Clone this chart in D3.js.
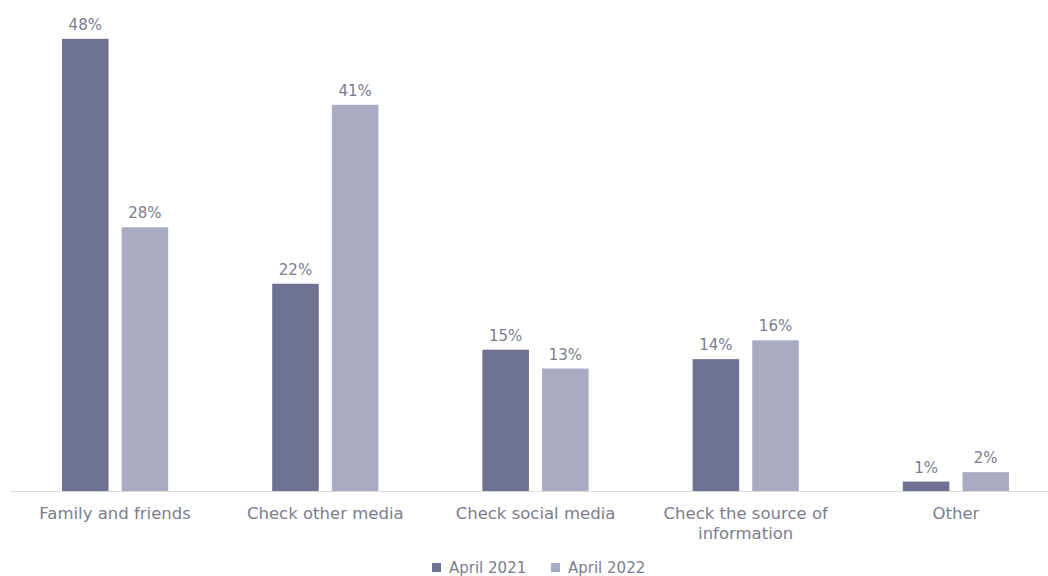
<!DOCTYPE html>
<html>
<head>
<meta charset="utf-8">
<script src="https://cdn.jsdelivr.net/npm/d3@7"></script>
<style>
  html, body { margin: 0; padding: 0; background: #ffffff; }
  svg { display: block; }
  text { font-family: "DejaVu Sans", sans-serif; fill: #7b7c8e; }
</style>
</head>
<body>
<svg id="chart" width="1048" height="576"></svg>
<script>
// Categories (multi-line labels split on "\n")
const categories = [
  "Family and friends",
  "Check other media",
  "Check social media",
  "Check the source of\ninformation",
  "Other"
];
const seriesNames = ["April 2021", "April 2022"];
const april2021 = [48, 22, 15, 14, 1];
const april2022 = [28, 41, 13, 16, 2];
const seriesColors = ["#6e7192", "#a9abc3"];

const svg = d3.select("#chart");
const W = 1048;
const baseY = 491;

const x = d3.scaleBand()
  .domain(categories)
  .range([10, 1061])
  .paddingInner(0)
  .paddingOuter(0);

const inner = d3.scaleBand()
  .domain(seriesNames)
  .range([52, x.bandwidth() - 52])
  .paddingInner(0.22);

const y = d3.scaleLinear().domain([0, 50]).range([baseY, baseY - 471]);

const rows = categories.map((c, i) => ({
  cat: c,
  vals: [april2021[i], april2022[i]]
}));

// bars
const groups = svg.append("g").selectAll("g")
  .data(rows).join("g")
  .attr("transform", d => `translate(${x(d.cat)},0)`);

groups.selectAll("rect")
  .data(d => d.vals.map((v, j) => ({ v, s: seriesNames[j], j })))
  .join("rect")
  .attr("x", d => inner(d.s))
  .attr("width", inner.bandwidth())
  .attr("y", d => y(d.v))
  .attr("height", d => baseY - y(d.v))
  .attr("fill", d => seriesColors[d.j]);

// value labels
groups.selectAll("text.val")
  .data(d => d.vals.map((v, j) => ({ v, s: seriesNames[j], j })))
  .join("text")
  .attr("class", "val")
  .attr("x", d => inner(d.s) + inner.bandwidth() / 2)
  .attr("y", d => y(d.v) - 9)
  .attr("text-anchor", "middle")
  .attr("font-size", 15)
  .text(d => d.v + "%");

// baseline axis
svg.append("line")
  .attr("x1", 10).attr("x2", W)
  .attr("y1", baseY + 0.5).attr("y2", baseY + 0.5)
  .attr("stroke", "#d9d9d9").attr("stroke-width", 1);

// category labels
const catLabels = svg.append("g").selectAll("text")
  .data(categories).join("text")
  .attr("x", d => x(d) + x.bandwidth() / 2)
  .attr("y", 519)
  .attr("text-anchor", "middle")
  .attr("font-size", 16.5);
catLabels.selectAll("tspan")
  .data(d => d.split("\n"))
  .join("tspan")
  .attr("x", function () { return d3.select(this.parentNode).attr("x"); })
  .attr("dy", (d, i) => i === 0 ? 0 : 20)
  .text(d => d);

// legend
const legendItems = [
  { name: seriesNames[0], color: seriesColors[0], x: 432 },
  { name: seriesNames[1], color: seriesColors[1], x: 551 }
];
const lg = svg.append("g").selectAll("g").data(legendItems).join("g")
  .attr("transform", d => `translate(${d.x},0)`);
lg.append("rect").attr("x", 0).attr("y", 563).attr("width", 9).attr("height", 9)
  .attr("fill", d => d.color);
lg.append("text").attr("x", 17).attr("y", 573).attr("font-size", 15).text(d => d.name);
</script>
</body>
</html>
